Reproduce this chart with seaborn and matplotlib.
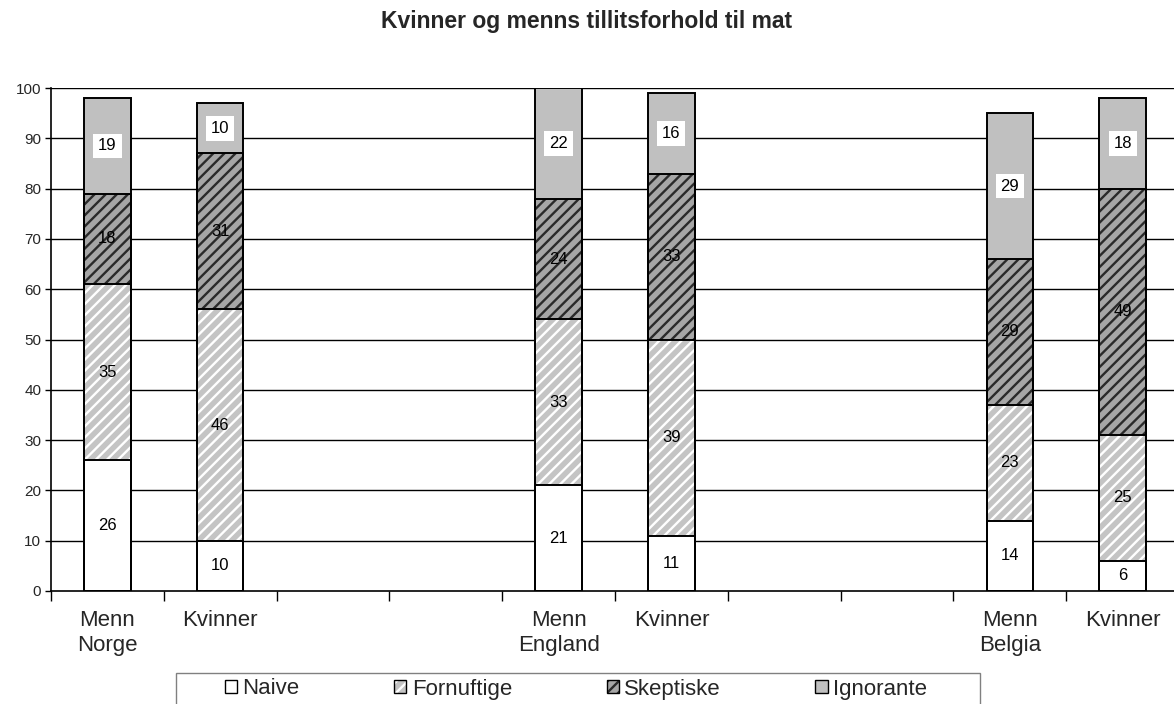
import pandas as pd
import seaborn as sns
import matplotlib.pyplot as plt
from matplotlib.patches import Patch, Rectangle
from matplotlib.ticker import FixedLocator

# category slots on the x axis (empty slots are gaps between countries)
slots = ["Menn Norge", "Kvinner Norge", "gap1", "gap2",
         "Menn England", "Kvinner England", "gap3", "gap4",
         "Menn Belgia", "Kvinner Belgia"]
slot_labels = ["Menn\nNorge", "Kvinner", "", "", "Menn\nEngland", "Kvinner",
               "", "", "Menn\nBelgia", "Kvinner"]

bars = ["Menn Norge", "Kvinner Norge", "Menn England", "Kvinner England",
        "Menn Belgia", "Kvinner Belgia"]
naive = [26, 10, 21, 11, 14, 6]
fornuftige = [35, 46, 33, 39, 23, 25]
skeptiske = [18, 31, 24, 33, 29, 49]
ignorante = [19, 10, 22, 16, 29, 18]

series = ["Naive", "Fornuftige", "Skeptiske", "Ignorante"]
values = [naive, fornuftige, skeptiske, ignorante]
# (face, hatch colour, hatch)
styles = [("white", "white", None),
          ("#c4c4c4", "white", "///"),
          ("#a6a6a6", "#2a2a2a", "///"),
          ("#c0c0c0", "#c0c0c0", None)]

df = pd.DataFrame({"gruppe": bars})
cum = [0] * len(bars)
for name, vals in zip(series, values):
    df[name] = vals
    cum = [c + v for c, v in zip(cum, vals)]
    df[name + "_top"] = cum

sns.set_style("white")
plt.rcParams["font.family"] = ["Liberation Sans", "DejaVu Sans"]
plt.rcParams["hatch.linewidth"] = 1.7

fig = plt.figure(figsize=(11.74, 7.04), dpi=100)
ax = fig.add_axes([51 / 1174, 1 - 591 / 704, 1123 / 1174, 503 / 704])

# filled layers, top of stack first so lower layers cover it
for name, (fc, hc, h) in reversed(list(zip(series, styles))):
    sns.barplot(data=df, x="gruppe", y=name + "_top", order=slots, color=fc,
                saturation=1, width=0.41, edgecolor=hc, linewidth=0,
                hatch=h, errorbar=None, ax=ax, zorder=2)
# black outlines
for name in series:
    sns.barplot(data=df, x="gruppe", y=name + "_top", order=slots,
                fill=False, color="black", width=0.41, linewidth=1.4,
                errorbar=None, ax=ax, zorder=3)

# value labels
for i, b in enumerate(bars):
    x = slots.index(b)
    base = 0
    for name, vals in zip(series, values):
        v = vals[i]
        kw = {}
        if name == "Ignorante":
            kw["bbox"] = dict(facecolor="white", edgecolor="none", pad=3.5)
        ax.text(x, base + v / 2, str(v), ha="center", va="center",
                fontsize=12, color="black", zorder=5, **kw)
        base += v

ax.set_ylim(0, 100)
ax.set_yticks(range(0, 101, 10))
ax.set_xlim(-0.5, -0.5 + 1123 / 112.8)
ax.xaxis.set_major_locator(FixedLocator([i - 0.5 for i in range(11)]))
ax.xaxis.set_minor_locator(FixedLocator(list(range(len(slots)))))
ax.set_xticklabels([""] * 11)
ax.set_xticklabels(slot_labels, minor=True, fontsize=16, linespacing=1.2)
ax.tick_params(axis="x", which="major", direction="out", length=7,
               width=1, color="black", bottom=True)
ax.tick_params(axis="x", which="minor", length=0, pad=14)
ax.tick_params(axis="y", direction="out", length=4, width=1,
               color="black", left=True, labelsize=11, pad=3)
ax.set_xlabel("")
ax.set_ylabel("")
ax.grid(False)
for y in range(10, 101, 10):
    ax.axhline(y, color="black", linewidth=1, zorder=1)
for side in ["top", "right"]:
    ax.spines[side].set_visible(False)
for side in ["left", "bottom"]:
    ax.spines[side].set_color("black")
    ax.spines[side].set_linewidth(1.2)

fig.text(0.5, 1 - 28 / 704, "Kvinner og menns tillitsforhold til mat",
         ha="center", va="baseline", fontsize=16.5, fontweight="bold")

handles = []
for fc, hc, h in styles:
    handles.append((Patch(facecolor=fc, edgecolor=hc, hatch=h, linewidth=0),
                    Patch(facecolor="none", edgecolor="black", linewidth=1)))
fig.legend(handles, series, ncol=4, loc="center",
           bbox_to_anchor=(576 / 1174, 1 - 689 / 704), fontsize=16,
           frameon=False, handlelength=0.55, handleheight=0.55,
           handletextpad=0.25, columnspacing=4.25, borderpad=0,
           borderaxespad=0)
fig.patches.append(Rectangle((176 / 1174, -0.02), 804 / 1174,
                             0.02 + 31 / 704, transform=fig.transFigure,
                             fill=False, edgecolor="#808080", linewidth=1))

plt.savefig("out.png", dpi=100)
